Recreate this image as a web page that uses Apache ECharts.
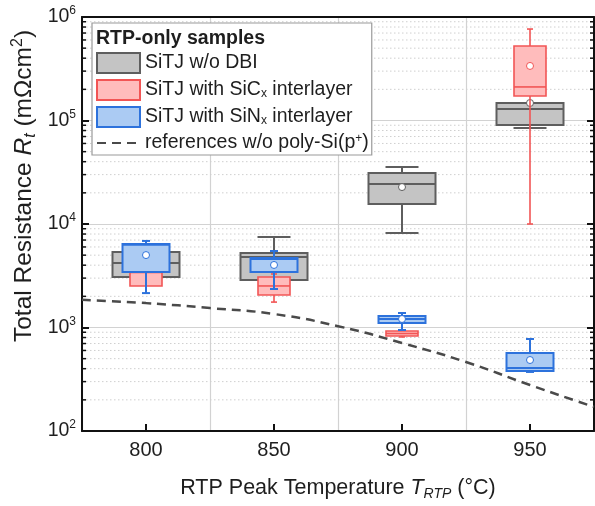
<!DOCTYPE html>
<html>
<head>
<meta charset="utf-8">
<script src="https://cdn.jsdelivr.net/npm/echarts@6/dist/echarts.min.js"></script>
<style>
  html, body { margin: 0; padding: 0; background: #fff; }
  #chart { width: 595px; height: 506px; }
</style>
</head>
<body>
<div id="chart"></div>
<script>
// categories on the x axis (RTP peak temperature, °C)
const categories = ['800', '850', '900', '950'];

// box statistics per temperature: [min, q1, median, q3, max]
const grayStats = [
  [3080, 3080, 4200, 5360, 5360],
  [2880, 2880, 4800, 5250, 7480],
  [8180, 15600, 24300, 31100, 35600],
  [84700, 90600, 129000, 147600, 147600]
];
const redStats = [
  [2520, 2520, 3400, 3450, 3450],
  [1760, 2060, 2520, 3080, 3290],
  [810, 828, 875, 925, 925],
  [10000, 172600, 211000, 525000, 765000]
];
const blueStats = [
  [2150, 3435, 6300, 6410, 6860],
  [2355, 3435, 4600, 4690, 5485],
  [946, 1105, 1208, 1291, 1380],
  [372, 380, 406, 567, 774]
];
// mean markers (null = hidden behind other boxes)
const grayMean = [null, null, 22750, 147600];
const redMean = [null, null, null, 336600];
const blueMean = [5010, 4020, 1208, 485];

// reference curve without poly-Si(p+)
const refX = [775, 800, 825, 850, 875, 900, 925, 950, 975];
const refY = [1850, 1720, 1540, 1350, 1030, 708, 464, 278, 171];

// y axis decades, minor grid values
const yMin = 100, yMax = 1000000;
const minorVals = [];
for (let d = yMin; d < yMax; d *= 10) {
  for (let k = 2; k <= 9; k++) minorVals.push(d * k);
}

const NAME_GRAY = 'SiTJ w/o DBI';
const NAME_RED = 'SiTJ with SiCx interlayer';
const NAME_BLUE = 'SiTJ with SiNx interlayer';
const NAME_REF = 'references w/o poly-Si(p+)';

const fontFam = "'Liberation Sans', Arial, sans-serif";
const txt = '#1e1e1e';

const gray = { fill: '#c4c4c4', stroke: '#5e5e5e' };
const red = { fill: '#ffbcbc', stroke: '#f25555' };
const blue = { fill: '#abcbf3', stroke: '#2d72dc' };

function boxItem(boxW, capW, col, lw) {
  return function (params, api) {
    const i = api.value(0);
    const pMin = api.coord([i, api.value(1)]);
    const pQ1 = api.coord([i, api.value(2)]);
    const pMed = api.coord([i, api.value(3)]);
    const pQ3 = api.coord([i, api.value(4)]);
    const pMax = api.coord([i, api.value(5)]);
    const cx = pMed[0];
    const ls = { stroke: col.stroke, lineWidth: lw, fill: null };
    const ch = [];
    if (pMax[1] < pQ3[1] - 0.5) {
      ch.push({ type: 'line', shape: { x1: cx, y1: pQ3[1], x2: cx, y2: pMax[1] }, style: ls });
      ch.push({ type: 'line', shape: { x1: cx - capW / 2, y1: pMax[1], x2: cx + capW / 2, y2: pMax[1] }, style: ls });
    }
    if (pMin[1] > pQ1[1] + 0.5) {
      ch.push({ type: 'line', shape: { x1: cx, y1: pQ1[1], x2: cx, y2: pMin[1] }, style: ls });
      ch.push({ type: 'line', shape: { x1: cx - capW / 2, y1: pMin[1], x2: cx + capW / 2, y2: pMin[1] }, style: ls });
    }
    ch.push({
      type: 'rect',
      shape: { x: cx - boxW / 2, y: pQ3[1], width: boxW, height: pQ1[1] - pQ3[1] },
      style: { fill: col.fill, stroke: col.stroke, lineWidth: lw }
    });
    ch.push({ type: 'line', shape: { x1: cx - boxW / 2, y1: pMed[1], x2: cx + boxW / 2, y2: pMed[1] }, style: ls });
    return { type: 'group', children: ch };
  };
}

function boxSeries(name, stats, boxW, capW, col, lw, z) {
  return {
    name: name,
    type: 'custom',
    z: z,
    xAxisIndex: 0,
    yAxisIndex: 0,
    itemStyle: { color: col.fill, borderColor: col.stroke, borderWidth: lw },
    encode: { x: 0, y: [1, 2, 3, 4, 5] },
    renderItem: boxItem(boxW, capW, col, lw),
    data: stats.map((s, i) => [i].concat(s))
  };
}

function meanSeries(means, col, z) {
  return {
    type: 'scatter',
    z: z,
    xAxisIndex: 0,
    yAxisIndex: 0,
    symbol: 'circle',
    symbolSize: 7,
    silent: true,
    itemStyle: { color: '#fff', borderColor: col.stroke, borderWidth: 1, opacity: 1 },
    data: means.map((v, i) => [i, v]).filter(d => d[1] != null)
  };
}

const chart = echarts.init(document.getElementById('chart'));
chart.setOption({
  animation: false,
  backgroundColor: '#fff',
  textStyle: { fontFamily: fontFam, color: txt },
  grid: { left: 82, top: 17, right: 1, bottom: 75, containLabel: false },
  title: {
    text: 'RTP-only samples',
    left: 96,
    top: 29,
    padding: 0,
    textStyle: { fontSize: 19.5, fontWeight: 'bold', fontFamily: fontFam, color: txt }
  },
  legend: {
    orient: 'vertical',
    left: 92,
    top: 23,
    padding: [29, 3, 2, 4],
    itemGap: 5,
    itemWidth: 43,
    itemHeight: 20,
    backgroundColor: '#fff',
    borderColor: '#9a9a9a',
    borderWidth: 1.2,
    borderRadius: 0,
    selectedMode: false,
    data: [
      { name: NAME_GRAY, icon: 'rect', itemStyle: { color: gray.fill, borderColor: gray.stroke, borderWidth: 2 } },
      { name: NAME_RED, icon: 'rect', itemStyle: { color: red.fill, borderColor: red.stroke, borderWidth: 2 } },
      { name: NAME_BLUE, icon: 'rect', itemStyle: { color: blue.fill, borderColor: blue.stroke, borderWidth: 2 } },
      { name: NAME_REF, itemStyle: { color: 'rgba(0,0,0,0)', borderColor: 'rgba(0,0,0,0)', borderWidth: 0 } }
    ],
    formatter: function (name) {
      if (name === NAME_RED) return 'SiTJ with SiC{sub|x} interlayer';
      if (name === NAME_BLUE) return 'SiTJ with SiN{sub|x} interlayer';
      if (name === NAME_REF) return 'references w/o poly-Si(p{sup|+})';
      return name;
    },
    textStyle: {
      fontSize: 19.5,
      lineHeight: 20,
      fontFamily: fontFam,
      color: txt,
      rich: {
        sub: { fontSize: 12, fontFamily: fontFam, color: txt, verticalAlign: 'bottom', lineHeight: 20 },
        sup: { fontSize: 12, fontFamily: fontFam, color: txt, verticalAlign: 'top', lineHeight: 20 }
      }
    }
  },
  xAxis: [
    {
      type: 'category',
      data: categories,
      position: 'bottom',
      axisLine: { show: true, lineStyle: { color: '#111', width: 2 } },
      axisTick: { show: true, inside: true, alignWithLabel: true, length: 7, lineStyle: { color: '#111', width: 2 } },
      axisLabel: { fontSize: 20, color: txt, fontFamily: fontFam, margin: 9 },
      splitLine: { show: true, lineStyle: { color: '#d2d2d2', width: 1.2 } },
      name: 'RTP Peak Temperature {i|T}{isub|RTP} (°C)',
      nameLocation: 'middle',
      nameGap: 44,
      nameTextStyle: {
        fontSize: 21.5, color: txt, fontFamily: fontFam,
        rich: {
          i: { fontSize: 21.5, fontStyle: 'italic', fontFamily: fontFam, color: txt },
          isub: { fontSize: 14, fontStyle: 'italic', fontFamily: fontFam, color: txt, verticalAlign: 'bottom', lineHeight: 26 }
        }
      }
    },
    {
      type: 'value',
      min: 775,
      max: 975,
      position: 'top',
      axisLine: { show: true, onZero: false, lineStyle: { color: '#111', width: 2 } },
      axisTick: { show: false },
      axisLabel: { show: false },
      splitLine: { show: false }
    }
  ],
  yAxis: [
    {
      type: 'log',
      logBase: 10,
      min: yMin,
      max: yMax,
      position: 'left',
      axisLine: { show: true, lineStyle: { color: '#111', width: 2 } },
      axisTick: { show: true, inside: true, length: 7, lineStyle: { color: '#111', width: 2 } },
      axisLabel: {
        fontSize: 19.5, color: txt, fontFamily: fontFam, margin: 6,
        formatter: function (v) { return '10{sup|' + Math.round(Math.log10(v)) + '}'; },
        rich: { sup: { fontSize: 12, fontFamily: fontFam, color: txt, verticalAlign: 'top', lineHeight: 24 } }
      },
      splitLine: { show: true, lineStyle: { color: '#d2d2d2', width: 1.2 } }
    },
    {
      type: 'log',
      logBase: 10,
      min: yMin,
      max: yMax,
      position: 'right',
      axisLine: { show: true, lineStyle: { color: '#111', width: 2 } },
      axisTick: { show: true, inside: true, length: 7, lineStyle: { color: '#111', width: 2 } },
      axisLabel: { show: false },
      splitLine: { show: false }
    }
  ],
  graphic: [
    {
      type: 'text',
      x: 24,
      y: 186,
      rotation: Math.PI / 2,
      silent: true,
      style: {
        text: 'Total Resistance {i|R}{isub|t} (mΩcm{sup|2})',
        fontSize: 24.5,
        fontFamily: fontFam,
        fill: txt,
        align: 'center',
        verticalAlign: 'middle',
        rich: {
          i: { fontSize: 24.5, fontStyle: 'italic', fontFamily: fontFam, fill: txt },
          isub: { fontSize: 16, fontStyle: 'italic', fontFamily: fontFam, fill: txt, verticalAlign: 'bottom', lineHeight: 29 },
          sup: { fontSize: 16, fontFamily: fontFam, fill: txt, verticalAlign: 'top', lineHeight: 29 }
        }
      }
    }
  ],
  series: [
    {
      // dotted minor grid lines plus minor ticks on both y axes
      type: 'custom',
      z: 0,
      silent: true,
      xAxisIndex: 0,
      yAxisIndex: 0,
      encode: { x: 0, y: 1 },
      renderItem: function (params, api) {
        const y = api.coord([0, api.value(1)])[1];
        const cs = params.coordSys;
        return {
          type: 'group',
          children: [
            { type: 'line', shape: { x1: cs.x, y1: y, x2: cs.x + cs.width, y2: y },
              style: { stroke: '#cfcfcf', lineWidth: 1, lineDash: [1.5, 2.5] } },
            { type: 'line', shape: { x1: cs.x, y1: y, x2: cs.x + 4, y2: y },
              style: { stroke: '#111', lineWidth: 1.5 } },
            { type: 'line', shape: { x1: cs.x + cs.width - 4, y1: y, x2: cs.x + cs.width, y2: y },
              style: { stroke: '#111', lineWidth: 1.5 } }
          ]
        };
      },
      data: minorVals.map(v => [0, v])
    },
    boxSeries(NAME_GRAY, grayStats, 67, 33, gray, 2, 2),
    meanSeries(grayMean, gray, 3),
    boxSeries(NAME_RED, redStats, 32, 6, red, 1.6, 4),
    meanSeries(redMean, red, 5),
    boxSeries(NAME_BLUE, blueStats, 47, 8, blue, 2, 6),
    meanSeries(blueMean, blue, 7),
    {
      name: NAME_REF,
      type: 'line',
      xAxisIndex: 1,
      yAxisIndex: 0,
      z: 8,
      smooth: true,
      symbol: 'none',
      lineStyle: { color: '#4a4a4a', width: 2.5, type: [9, 6] },
      itemStyle: { color: '#4a4a4a' },
      data: refX.map((x, i) => [x, refY[i]])
    }
  ]
});
</script>
</body>
</html>
